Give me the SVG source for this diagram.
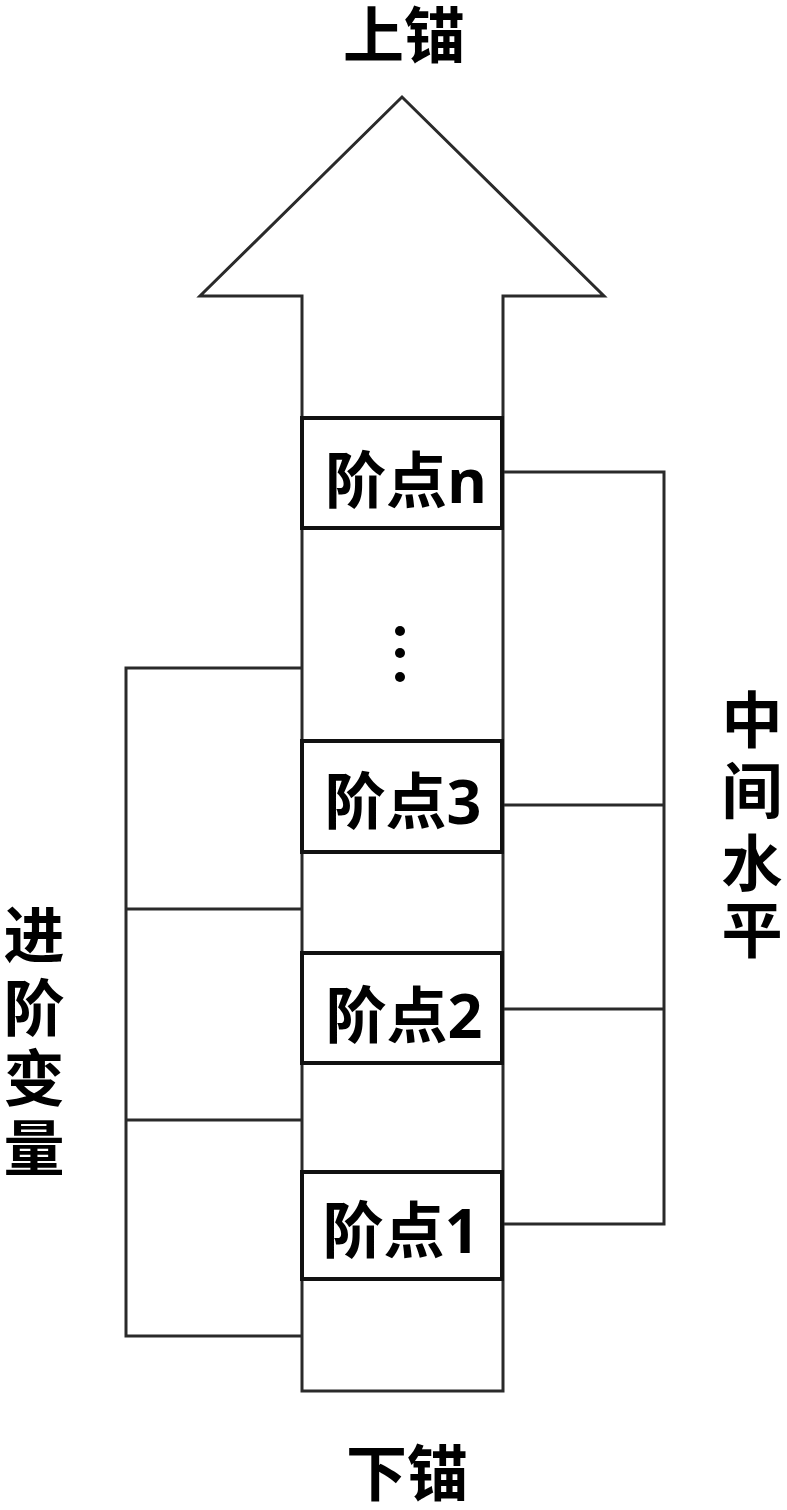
<svg xmlns="http://www.w3.org/2000/svg" width="787" height="1510" viewBox="0 0 787 1510">
<style>
.ln{fill:none;stroke:#2a2a2a;stroke-width:3;stroke-linejoin:miter}
.bx{fill:#fff;stroke:#111;stroke-width:4}
.t{font-family:"Open Sans","Noto Sans CJK SC",sans-serif;font-weight:bold;font-size:61px;fill:#000}
.m{text-anchor:middle}
</style>
<rect width="787" height="1510" fill="#fff"/>
<g id="arrow">
<polygon class="ln" points="302,1391 302,296 200,296 402,97 604,296 503,296 503,1391"/>
</g>
<g id="connectors">
<path class="ln" d="M302 668 H126 V1336 H302"/>
<path class="ln" d="M126 909 H302 M126 1120 H302"/>
<path class="ln" d="M503 472 H664 V1224 H503"/>
<path class="ln" d="M503 805 H664 M503 1009 H664"/>
</g>
<g id="node-n">
<rect class="bx" x="302" y="418" width="200" height="110"/>
<text class="t m" x="406" y="503">阶点n</text>
</g>
<g id="dots">
<circle cx="400" cy="631" r="5" fill="#000"/>
<circle cx="400" cy="653" r="5" fill="#000"/>
<circle cx="400" cy="677" r="5" fill="#000"/>
</g>
<g id="node-3">
<rect class="bx" x="302" y="741" width="200" height="111"/>
<text class="t m" x="403" y="824">阶点3</text>
</g>
<g id="node-2">
<rect class="bx" x="302" y="953" width="200" height="110"/>
<text class="t m" x="404" y="1038">阶点2</text>
</g>
<g id="node-1">
<rect class="bx" x="302" y="1172" width="200" height="107"/>
<text class="t m" x="401" y="1253">阶点1</text>
</g>
<g id="label-top">
<text class="t m" x="404" y="58">上锚</text>
</g>
<g id="label-bottom">
<text class="t m" x="407" y="1496">下锚</text>
</g>
<g id="label-left">
<text class="t m"><tspan x="34" y="958">进</tspan><tspan x="34" y="1031">阶</tspan><tspan x="34" y="1101">变</tspan><tspan x="34" y="1171">量</tspan></text>
</g>
<g id="label-right">
<text class="t m"><tspan x="752" y="743">中</tspan><tspan x="752" y="814">间</tspan><tspan x="752" y="886">水</tspan><tspan x="752" y="953">平</tspan></text>
</g>
</svg>
